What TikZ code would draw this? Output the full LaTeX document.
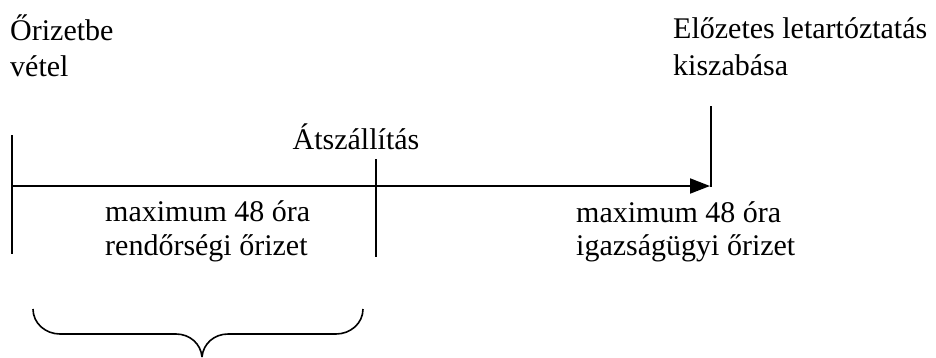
\documentclass[tikz,border=0pt]{standalone}
\usepackage{fontspec}
\setmainfont{Liberation Serif}
\usetikzlibrary{arrows.meta}
\begin{document}
\begin{tikzpicture}[x=1pt,y=-1pt,
  lbl/.style={anchor=base west,inner sep=0pt,font=\fontsize{30}{36}\selectfont},
  lblc/.style={anchor=base,inner sep=0pt,font=\fontsize{30}{36}\selectfont},
  ln/.style={line width=2pt},
  arr/.style={line width=2pt,-{Triangle[length=20pt,width=15pt]}}]
\useasboundingbox (0,0) rectangle (936,357);
% labels
\node[lbl] (o1) at (10,40) {Őrizetbe};
\node[lbl] (o2) at (10,76) {vétel};
\node[lbl] (e1) at (673,38) {Előzetes letartóztatás};
\node[lbl] (e2) at (673,75) {kiszabása};
\node[lblc] (at) at (356,149) {Átszállítás};
\node[lbl] (m1) at (105,221) {maximum 48 óra};
\node[lbl] (m2) at (105,255) {rendőrségi őrizet};
\node[lbl] (n1) at (576,222) {maximum 48 óra};
\node[lbl] (n2) at (576,255) {igazságügyi őrizet};
% axis
\coordinate (lt) at (12,135);
\coordinate (lb) at (12,254);
\coordinate (la) at (11,186);
\coordinate (mt) at (376,159);
\coordinate (mb) at (376,257);
\coordinate (rt) at (711,106);
\coordinate (rb) at (711,187);
\coordinate (ra) at (710,186);
\draw[ln] (lt) -- (lb);
\draw[ln] (mt) -- (mb);
\draw[ln] (rt) -- (rb);
\draw[arr] (la) -- (ra);
% brace
\coordinate (bl) at (33,309);
\coordinate (br) at (363,309);
\coordinate (bt) at (202,357);
\draw[line width=1.6pt] (bl) to[out=-90,in=180] (60,334) -- (176,334) to[out=0,in=95] (bt);
\draw[line width=1.6pt] (br) to[out=-90,in=0] (336,334) -- (228,334) to[out=180,in=85] (bt);
\end{tikzpicture}
\end{document}
